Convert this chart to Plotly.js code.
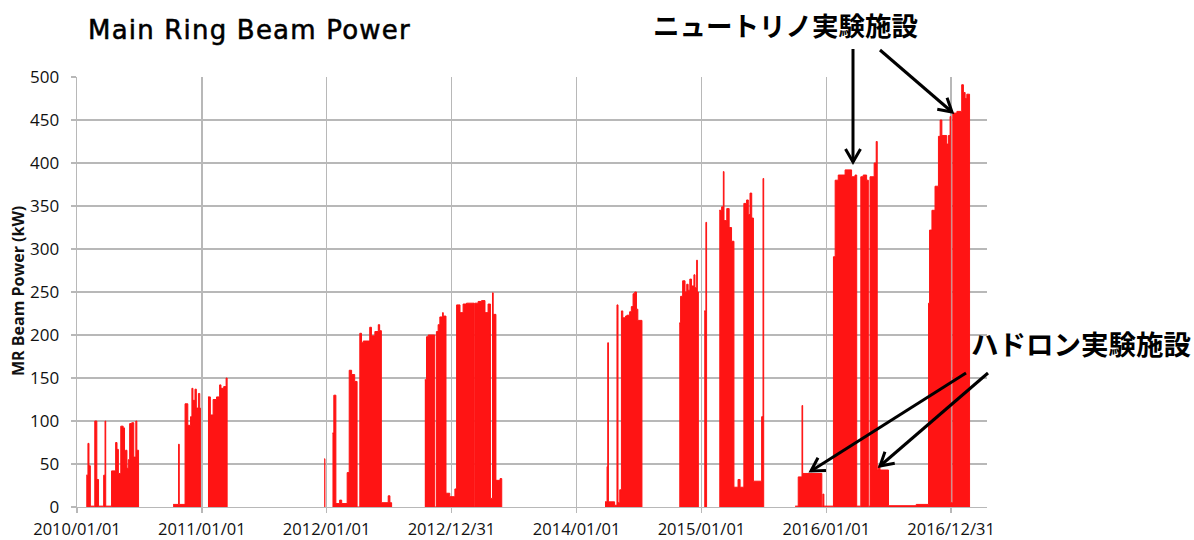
<!DOCTYPE html>
<html><head><meta charset="utf-8">
<script src="https://cdn.plot.ly/plotly-3.0.1.min.js"></script>
<style>
html,body{margin:0;padding:0;background:#fff;}
#chart{width:1194px;height:540px;}
.gtitle{letter-spacing:1.2px;stroke:#000;stroke-width:0.55px;}
</style></head><body>
<div id="chart"></div>
<script>
// ---- data (MR beam power, kW) ----
const run2010Dates = ['2010-01-28','2010-02-02','2010-02-05','2010-02-09','2010-02-22','2010-02-28','2010-03-05','2010-03-20','2010-03-24','2010-03-26','2010-04-12','2010-04-24','2010-04-28','2010-05-02','2010-05-09','2010-05-16','2010-05-20','2010-05-23','2010-05-27','2010-05-31','2010-06-04','2010-06-10','2010-06-16','2010-06-22','2010-06-25','2010-06-30'];
const run2010Power = [37,74,48,1,100,32,1,37,100,1,42,75,67,39,94,92,50,66,45,55,97,98,58,100,66,0];

const run2010bDates = ['2010-10-09','2010-10-25','2010-10-27','2010-11-13','2010-11-21','2010-11-29','2010-12-03','2010-12-06','2010-12-12','2010-12-16','2010-12-22','2010-12-26','2010-12-28'];
const run2010bPower = [3,73,3,120,95,105,138,124,137,115,132,115,0];

const run2011Dates = ['2011-01-19','2011-01-26','2011-02-03','2011-02-13','2011-02-22','2011-02-26','2011-03-06','2011-03-13','2011-03-16'];
const run2011Power = [128,107,125,128,142,138,140,150,0];

const run2011bDates = ['2011-12-25','2011-12-27'];
const run2011bPower = [56,0];

const run2012Dates = ['2012-01-18','2012-01-22','2012-01-28','2012-02-08','2012-02-14','2012-03-01','2012-03-07','2012-03-14','2012-03-23','2012-03-30','2012-04-07','2012-04-12','2012-04-17','2012-05-06','2012-05-11','2012-05-21','2012-05-31','2012-06-04','2012-06-09','2012-06-29','2012-07-04','2012-07-09'];
const run2012Power = [86,130,4,8,4,40,159,154,146,0,202,191,193,209,199,204,212,205,5,13,5,0];

const run2013Dates = ['2012-10-14','2012-10-19','2012-10-24','2012-11-12','2012-11-17','2012-11-22','2012-11-27','2012-12-05','2012-12-07','2012-12-15','2012-12-26','2013-01-10','2013-01-15','2013-01-25','2013-02-03','2013-02-13','2013-03-07','2013-03-09','2013-03-19','2013-03-29','2013-04-08','2013-04-17','2013-04-24','2013-04-30','2013-05-02','2013-05-10','2013-05-22','2013-05-27'];
const run2013Power = [148,198,200,0,204,212,221,226,222,16,12,21,235,226,236,237,0,237,239,240,226,236,10,249,224,31,33,0];

const run2014Dates = ['2014-03-25','2014-03-31','2014-04-02','2014-04-04','2014-04-22','2014-04-29','2014-05-02','2014-05-07','2014-05-12','2014-05-16','2014-05-24','2014-05-28','2014-06-05','2014-06-10','2014-06-15','2014-06-20','2014-06-25','2014-06-29','2014-07-11'];
const run2014Power = [6,47,191,6,2,235,5,20,228,220,222,223,227,233,248,250,230,217,0];

const run2014bDates = ['2014-10-28','2014-11-01','2014-11-07','2014-11-14','2014-11-19','2014-11-23','2014-11-28','2014-12-03','2014-12-10','2014-12-13','2014-12-18','2014-12-20','2014-12-23'];
const run2014bPower = [214,245,263,250,259,252,265,257,270,255,287,250,0];

const run2015aDates = ['2015-01-09','2015-01-14','2015-01-16'];
const run2015aPower = [228,331,0];

const run2015Dates = ['2015-02-22','2015-03-01','2015-03-06','2015-03-08','2015-03-16','2015-03-23','2015-03-30','2015-04-06','2015-04-18','2015-04-24','2015-05-05','2015-05-13','2015-05-18','2015-05-23','2015-05-28','2015-06-02','2015-06-26','2015-06-30','2015-07-02'];
const run2015Power = [345,349,390,333,347,325,309,23,32,23,353,357,340,365,336,30,105,382,0];

const run2016Dates = ['2015-10-02','2015-10-11','2015-10-22','2015-10-24','2015-12-19','2015-12-22','2015-12-25','2016-01-22','2016-01-27','2016-02-05','2016-02-25','2016-03-15','2016-03-25','2016-03-30','2016-04-11','2016-04-18','2016-04-28','2016-05-03','2016-05-08','2016-05-20','2016-05-26','2016-05-29','2016-06-01','2016-06-06','2016-07-01','2016-09-20','2016-10-26','2016-10-29','2016-11-05','2016-11-14','2016-11-24','2016-11-29','2016-12-04','2016-12-18','2016-12-23','2016-12-28','2016-12-30','2017-01-05','2017-01-17','2017-01-31','2017-02-05','2017-02-10','2017-02-15','2017-02-23'];
const run2016Power = [1,35,118,39,1,15,1,291,380,386,392,384,386,1,384,386,380,1,384,400,425,43,48,43,1.5,3,237,322,345,373,431,450,432,422,432,454,5,458,460,491,482,475,480,0];

const tickDates = ['2010-01-01','2011-01-01','2012-01-01','2012-12-31','2014-01-01','2015-01-01','2016-01-01','2016-12-31'];
const tickLabels = ['2010/01/01','2011/01/01','2012/01/01','2012/12/31','2014/01/01','2015/01/01','2016/01/01','2016/12/31'];

// ---- one filled step trace per run ----
const runs = [
  [run2010Dates, run2010Power],[run2010bDates, run2010bPower],[run2011Dates, run2011Power],
  [run2011bDates, run2011bPower],[run2012Dates, run2012Power],[run2013Dates, run2013Power],
  [run2014Dates, run2014Power],[run2014bDates, run2014bPower],[run2015aDates, run2015aPower],
  [run2015Dates, run2015Power],[run2016Dates, run2016Power]
];
const RED = '#ff1414';
const GRID = '#b8b8b8';
const traces = runs.map(([d, p]) => ({
  type: 'scatter', mode: 'lines', x: d, y: p,
  line: {shape: 'hv', width: 1, color: RED},
  fill: 'tozeroy', fillcolor: RED, hoverinfo: 'skip'
}));

// plot box in pixels
const M = {l: 77, r: 207, t: 77, b: 33};
const W = 1194 - M.l - M.r, H = 540 - M.t - M.b;
const px = x => (x - M.l) / W;
const py = y => (M.t + H - y) / H;

function arrow(x1, y1, x2, y2) {
  const dx = x2 - x1, dy = y2 - y1, len = Math.hypot(dx, dy);
  const bx = -dx / len, by = -dy / len, a = Math.PI / 6, L = 15;
  const c = Math.cos(a), s = Math.sin(a);
  const a1 = [x2 + L * (bx * c - by * s), y2 + L * (bx * s + by * c)];
  const a2 = [x2 + L * (bx * c + by * s), y2 + L * (-bx * s + by * c)];
  const ln = {color: '#000', width: 3};
  return [
    {type: 'line', xref: 'paper', yref: 'paper', x0: px(x1), y0: py(y1), x1: px(x2), y1: py(y2), line: ln},
    {type: 'path', xref: 'paper', yref: 'paper', line: ln,
     path: `M ${px(a1[0])},${py(a1[1])} L ${px(x2)},${py(y2)} L ${px(a2[0])},${py(a2[1])}`}
  ];
}
const shapes = [].concat(
  arrow(853, 49, 853, 162),
  arrow(880, 50, 952, 112),
  arrow(966, 373, 811, 471),
  arrow(988, 373, 880, 466)
);

const axisCommon = {
  showgrid: true, gridcolor: GRID, gridwidth: 1.4,
  showline: true, linecolor: GRID, linewidth: 1.4,
  ticks: 'outside', ticklen: 5, tickcolor: GRID, tickwidth: 1.4,
  zeroline: false, fixedrange: true
};

const layout = {
  width: 1194, height: 540, margin: M,
  paper_bgcolor: '#fff', plot_bgcolor: '#fff', showlegend: false,
  title: {text: 'Main Ring Beam Power', font: {family: 'DejaVu Sans', size: 26, color: '#000'},
          xref: 'container', x: 88 / 1194, xanchor: 'left', yref: 'container', y: 1 - 30 / 540, yanchor: 'middle'},
  xaxis: Object.assign({}, axisCommon, {
    type: 'date', range: ['2010-01-01', '2017-04-15'],
    tickmode: 'array', tickvals: tickDates, ticktext: tickLabels, ticklabelstandoff: 2,
    tickfont: {family: 'Open Sans', size: 16.5, color: '#111'}
  }),
  yaxis: Object.assign({}, axisCommon, {
    range: [0, 500], tick0: 0, dtick: 50, ticklabelstandoff: 8,
    tickfont: {family: 'Open Sans', size: 17, color: '#111'}
  }),
  shapes: shapes,
  annotations: [
    {xref: 'paper', yref: 'paper', x: px(18), y: py(291), xanchor: 'center', yanchor: 'middle', showarrow: false,
     textangle: -90, text: '<b>MR Beam Power (kW)</b>', font: {family: 'Open Sans', size: 16, color: '#111'}},
    {xref: 'paper', yref: 'paper', x: px(651), y: py(24), xanchor: 'left', yanchor: 'middle', showarrow: false,
     text: '<b>ニュートリノ実験施設</b>', font: {family: 'Noto Sans CJK JP', size: 26.5, color: '#000'}},
    {xref: 'paper', yref: 'paper', x: px(969), y: py(343), xanchor: 'left', yanchor: 'middle', showarrow: false,
     text: '<b>ハドロン実験施設</b>', font: {family: 'Noto Sans CJK JP', size: 27.5, color: '#000'}}
  ]
};

Plotly.newPlot('chart', traces, layout, {staticPlot: true, displayModeBar: false});
</script>
</body></html>
